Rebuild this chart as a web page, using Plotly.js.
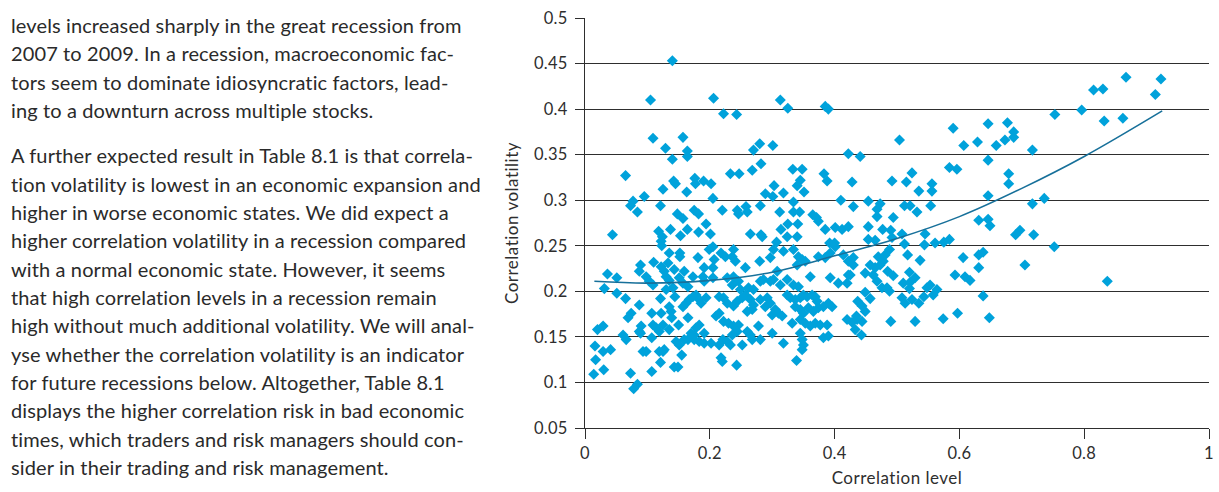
<!DOCTYPE html>
<html>
<head>
<meta charset="utf-8">
<script src="https://cdn.plot.ly/plotly-3.0.1.min.js"></script>
<style>
  html, body { margin: 0; padding: 0; background: #fff; }
  body { width: 1219px; height: 492px; position: relative; overflow: hidden; }
  #text { position: absolute; left: 11px; top: 11px; width: 475px;
          font-family: Lato, "Open Sans", sans-serif; font-size: 20px; letter-spacing: 0.12px; color: #2a2a2a; }
  #text .ln { white-space: nowrap; line-height: 28.33px; height: 28.33px; }
  #text .p2 { margin-top: 17px; }
  #chart { position: absolute; left: 480px; top: 0; width: 739px; height: 492px; }
  #chart .xtick text, #chart .ytick text { letter-spacing: 0.3px; }
  #chart .g-xtitle text, #chart .g-ytitle text { letter-spacing: 0.5px; }
</style>
</head>
<body>
<div id="text"></div>
<div id="chart"></div>
<script>
// ---- body text beside the chart ----
const paragraph1 = [
  "levels increased sharply in the great recession from",
  "2007 to 2009. In a recession, macroeconomic fac-",
  "tors seem to dominate idiosyncratic factors, lead-",
  "ing to a downturn across multiple stocks."
];
const paragraph2 = [
  "A further expected result in Table 8.1 is that correla-",
  "tion volatility is lowest in an economic expansion and",
  "higher in worse economic states. We did expect a",
  "higher correlation volatility in a recession compared",
  "with a normal economic state. However, it seems",
  "that high correlation levels in a recession remain",
  "high without much additional volatility. We will anal-",
  "yse whether the correlation volatility is an indicator",
  "for future recessions below. Altogether, Table 8.1",
  "displays the higher correlation risk in bad economic",
  "times, which traders and risk managers should con-",
  "sider in their trading and risk management."
];

// ---- chart data: correlation level (x) vs correlation volatility (y) ----
const corrLevel = [
0.140,0.105,0.206,0.222,0.243,0.313,0.325,0.385,0.390,0.109,0.157,0.129,0.164,0.164,0.140,0.065,0.142,0.145,0.125,0.163,
0.176,0.177,0.190,0.202,0.205,0.095,0.077,0.073,0.084,0.121,0.148,0.157,0.164,0.137,0.153,0.175,0.182,0.182,0.194,0.201,
0.118,0.124,0.122,0.044,0.220,0.233,0.247,0.244,0.246,0.258,0.260,0.265,0.268,0.270,0.280,0.282,0.301,0.281,0.282,0.284,
0.289,0.301,0.303,0.318,0.312,0.314,0.325,0.324,0.307,0.333,0.348,0.345,0.340,0.351,0.334,0.334,0.344,0.341,0.340,0.365,
0.371,0.374,0.385,0.383,0.388,0.410,0.401,0.412,0.422,0.422,0.428,0.430,0.392,0.400,0.441,0.504,0.454,0.473,0.468,0.468,
0.454,0.477,0.454,0.465,0.492,0.524,0.515,0.494,0.490,0.492,0.508,0.512,0.521,0.532,0.535,0.556,0.556,0.554,0.545,0.544,
0.561,0.575,0.584,0.590,0.607,0.629,0.646,0.659,0.673,0.677,0.687,0.687,0.646,0.717,0.584,0.596,0.679,0.679,0.646,0.717,
0.736,0.631,0.646,0.649,0.690,0.697,0.719,0.752,0.753,0.796,0.815,0.830,0.832,0.862,0.867,0.914,0.923,0.705,0.837,0.606,
0.631,0.638,0.631,0.593,0.609,0.617,0.638,0.648,0.597,0.574,0.564,0.558,0.543,0.553,0.548,0.535,0.529,0.490,0.444,0.443,
0.537,0.520,0.529,0.510,0.521,0.520,0.508,0.513,0.524,0.494,0.485,0.470,0.481,0.488,0.457,0.465,0.473,0.478,0.462,0.449,
0.468,0.476,0.484,0.449,0.457,0.437,0.444,0.449,0.435,0.428,0.433,0.430,0.425,0.517,0.488,0.512,
0.123,0.135,0.152,0.152,0.181,0.199,0.205,0.207,0.218,0.110,0.133,0.089,0.087,0.122,0.127,0.143,0.159,0.191,0.205,0.036,
0.051,0.098,0.103,0.109,0.130,0.135,0.151,0.157,0.165,0.173,0.189,0.191,0.205,0.141,0.130,0.031,0.051,0.065,0.087,0.121,
0.144,0.135,0.138,0.157,0.162,0.167,0.173,0.178,0.183,0.186,0.194,0.215,0.074,0.069,0.107,0.122,0.139,0.150,0.165,0.109,
0.114,0.119,0.090,0.087,0.135,0.125,0.178,0.183,0.170,0.175,0.191,0.202,0.191,0.183,0.175,0.165,0.159,0.215,0.210,0.215,
0.020,0.029,0.061,0.066,0.016,0.029,0.041,0.017,0.030,0.014,0.093,0.098,0.119,0.125,0.127,0.121,0.155,0.073,0.107,0.143,
0.149,0.084,0.078,0.146,0.151,0.218,0.221,0.089,0.107,
0.225,0.236,0.241,0.238,0.280,0.257,0.302,0.318,0.334,0.342,0.348,0.340,0.353,0.297,0.374,0.385,0.393,0.401,0.414,0.422,
0.430,0.361,0.393,0.406,0.420,0.422,0.308,0.324,0.334,0.342,0.313,0.281,0.286,0.297,0.302,0.228,0.238,0.246,0.236,0.262,
0.270,0.222,0.228,0.238,0.244,0.252,0.257,0.249,0.265,0.270,0.268,0.260,0.281,0.292,0.297,0.289,0.305,0.310,0.316,0.300,
0.324,0.329,0.337,0.345,0.350,0.356,0.364,0.369,0.372,0.337,0.345,0.350,0.358,0.366,0.374,0.382,0.390,0.396,0.332,0.345,
0.353,0.361,0.369,0.377,0.388,0.420,0.436,0.222,0.230,0.238,0.246,0.244,0.236,0.278,0.300,0.260,0.265,0.228,0.233,0.252,
0.268,0.281,0.345,0.348,0.350,0.348,0.318,0.382,0.390,0.220,0.243,0.339
];
const corrVolatility = [
0.453,0.410,0.412,0.395,0.394,0.410,0.401,0.403,0.400,0.368,0.369,0.357,0.354,0.348,0.345,0.327,0.321,0.318,0.312,0.309,
0.324,0.318,0.321,0.318,0.302,0.304,0.299,0.294,0.287,0.294,0.285,0.280,0.268,0.268,0.261,0.289,0.285,0.265,0.274,0.263,
0.266,0.260,0.255,0.262,0.289,0.329,0.329,0.289,0.285,0.293,0.287,0.263,0.333,0.355,0.362,0.340,0.360,0.294,0.262,0.260,
0.307,0.304,0.316,0.308,0.287,0.268,0.274,0.260,0.254,0.334,0.334,0.322,0.316,0.309,0.298,0.287,0.287,0.274,0.260,0.284,
0.281,0.277,0.268,0.329,0.321,0.300,0.270,0.268,0.271,0.351,0.320,0.293,0.253,0.253,0.348,0.366,0.299,0.296,0.290,0.282,
0.271,0.268,0.257,0.256,0.321,0.330,0.320,0.281,0.267,0.259,0.263,0.294,0.294,0.287,0.310,0.318,0.310,0.294,0.263,0.251,
0.253,0.254,0.257,0.379,0.360,0.364,0.384,0.360,0.366,0.385,0.375,0.369,0.344,0.355,0.336,0.334,0.329,0.318,0.305,0.296,
0.302,0.278,0.279,0.272,0.262,0.267,0.262,0.249,0.394,0.399,0.421,0.422,0.387,0.390,0.435,0.416,0.433,0.229,0.211,0.237,
0.240,0.243,0.226,0.218,0.216,0.212,0.195,0.171,0.176,0.170,0.202,0.196,0.194,0.207,0.204,0.187,0.167,0.167,0.167,0.152,
0.234,0.221,0.215,0.209,0.210,0.203,0.193,0.187,0.191,0.217,0.222,0.238,0.240,0.246,0.229,0.226,0.229,0.233,0.218,0.220,
0.211,0.204,0.204,0.199,0.192,0.189,0.184,0.178,0.173,0.166,0.158,0.229,0.218,0.240,0.200,0.252,
0.250,0.242,0.242,0.238,0.237,0.246,0.249,0.235,0.242,0.232,0.231,0.229,0.222,0.227,0.222,0.224,0.222,0.226,0.226,0.219,
0.215,0.216,0.211,0.207,0.216,0.212,0.215,0.209,0.205,0.216,0.216,0.211,0.215,0.204,0.202,0.203,0.198,0.192,0.185,0.192,
0.194,0.183,0.178,0.183,0.187,0.191,0.194,0.196,0.191,0.187,0.193,0.194,0.176,0.171,0.176,0.176,0.171,0.163,0.171,0.163,
0.160,0.156,0.162,0.156,0.158,0.163,0.160,0.163,0.154,0.152,0.154,0.143,0.143,0.145,0.147,0.147,0.147,0.141,0.173,0.176,
0.158,0.162,0.152,0.147,0.140,0.134,0.136,0.125,0.114,0.109,0.134,0.134,0.134,0.134,0.136,0.122,0.130,0.110,0.112,0.117,
0.117,0.098,0.093,0.145,0.141,0.127,0.147,0.154,0.149,
0.238,0.238,0.233,0.246,0.233,0.226,0.246,0.244,0.246,0.238,0.235,0.229,0.233,0.237,0.238,0.237,0.242,0.249,0.240,0.233,
0.237,0.216,0.215,0.209,0.209,0.218,0.222,0.213,0.207,0.205,0.207,0.211,0.213,0.211,0.213,0.215,0.216,0.211,0.207,0.204,
0.202,0.193,0.187,0.184,0.189,0.193,0.196,0.202,0.191,0.185,0.180,0.178,0.191,0.193,0.187,0.183,0.180,0.176,0.173,0.174,
0.196,0.193,0.191,0.193,0.196,0.194,0.196,0.194,0.189,0.183,0.180,0.176,0.182,0.178,0.182,0.183,0.187,0.183,0.165,0.169,
0.165,0.162,0.165,0.163,0.163,0.169,0.169,0.167,0.165,0.162,0.163,0.156,0.152,0.162,0.154,0.156,0.152,0.145,0.141,0.141,
0.147,0.147,0.154,0.147,0.141,0.136,0.143,0.149,0.151,0.123,0.119,0.124
];

// trend line
const trendLevel      = [0.015, 0.1,   0.2,   0.3,   0.4,   0.5,   0.6,   0.7,   0.8,   0.925];
const trendVolatility = [0.211, 0.209, 0.212, 0.221, 0.239, 0.258, 0.282, 0.313, 0.348, 0.398];

// axis ticks
const xTicks = [0, 0.2, 0.4, 0.6, 0.8, 1];
const xTickText = ["0", "0.2", "0.4", "0.6", "0.8", "1"];
const yTicks = [0.05, 0.1, 0.15, 0.2, 0.25, 0.3, 0.35, 0.4, 0.45, 0.5];
const yTickText = ["0.05", "0.1", "0.15", "0.2", "0.25", "0.3", "0.35", "0.4", "0.45", "0.5"];

// ---- render text ----
const textDiv = document.getElementById('text');
paragraph1.forEach(t => { const d = document.createElement('div'); d.className = 'ln'; d.textContent = t; textDiv.appendChild(d); });
paragraph2.forEach((t, i) => { const d = document.createElement('div'); d.className = 'ln' + (i === 0 ? ' p2' : ''); d.textContent = t; textDiv.appendChild(d); });

// ---- render chart ----
const fam = 'Lato, "Open Sans", sans-serif';
const tickFont = { family: fam, size: 16.5, color: '#2e2e2e' };
const titleFont = { family: fam, size: 17, color: '#2e2e2e' };
const traces = [
  {
    type: 'scatter', mode: 'markers', x: corrLevel, y: corrVolatility,
    marker: { symbol: 'diamond', size: 8.5, color: '#00a2db', line: { width: 0 } },
    hoverinfo: 'skip', showlegend: false
  },
  {
    type: 'scatter', mode: 'lines', x: trendLevel, y: trendVolatility,
    line: { color: '#17709a', width: 1.6, shape: 'spline', smoothing: 1 },
    hoverinfo: 'skip', showlegend: false
  }
];
const layout = {
  width: 739, height: 492,
  margin: { l: 105, r: 10, t: 18, b: 64 },
  paper_bgcolor: '#ffffff', plot_bgcolor: '#ffffff',
  font: tickFont,
  showlegend: false,
  xaxis: {
    range: [0, 1], tickvals: xTicks, ticktext: xTickText,
    showgrid: false, zeroline: false,
    showline: true, linecolor: '#2e2e2e', linewidth: 1,
    ticks: 'outside', ticklen: 10, tickcolor: '#2e2e2e', tickwidth: 1,
    tickfont: tickFont,
    title: { text: 'Correlation level', font: titleFont, standoff: 10 }
  },
  yaxis: {
    range: [0.05, 0.5], tickvals: yTicks, ticktext: yTickText,
    showgrid: true, gridcolor: '#2e2e2e', gridwidth: 1, zeroline: false,
    showline: true, linecolor: '#2e2e2e', linewidth: 1,
    ticks: 'outside', ticklen: 9, tickcolor: '#2e2e2e', tickwidth: 1,
    tickfont: tickFont, ticklabelstandoff: 4,
    title: { text: 'Correlation volatility', font: titleFont, standoff: 12 }
  }
};
Plotly.newPlot('chart', traces, layout, { staticPlot: true, displayModeBar: false });
</script>
</body>
</html>
